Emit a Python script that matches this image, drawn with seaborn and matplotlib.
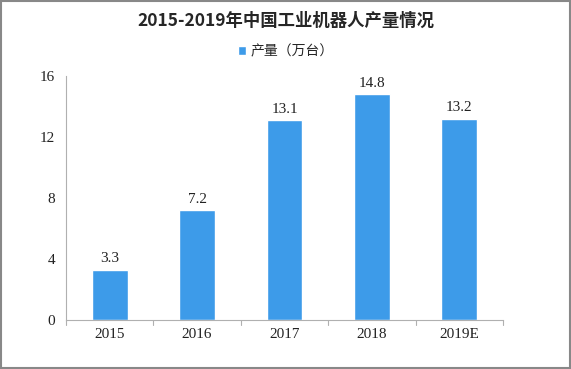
import matplotlib
matplotlib.use('Agg')
import matplotlib.pyplot as plt
import seaborn as sns
import pandas as pd

years = ['2015', '2016', '2017', '2018', '2019E']
output = [3.3, 7.2, 13.1, 14.8, 13.2]
yticks = [0, 4, 8, 12, 16]

sns.set_theme(style='white')
plt.rcParams['font.family'] = ['Liberation Serif', 'Noto Sans CJK SC', 'DejaVu Sans']

df = pd.DataFrame({'year': years, 'value': output})

fig = plt.figure(figsize=(5.71, 3.69), dpi=100)
ax = fig.add_axes([0.1156, 0.1328, 0.7654, 0.6612])
sns.barplot(data=df, x='year', y='value', color='#3d9be9', width=0.41,
            saturation=1, ax=ax, label='产量（万台）')

# value labels above bars
for i, v in enumerate(output):
    ax.text(i, v + 0.3, f'{v}', ha='center', va='bottom', fontsize=11, color='#222222')

ax.set_ylim(0, 16)
ax.set_yticks(yticks)
ax.set_xlim(-0.5, len(years) - 0.5)
ax.set_xlabel('')
ax.set_ylabel('')
for s in ['top', 'right']:
    ax.spines[s].set_visible(False)
for s in ['left', 'bottom']:
    ax.spines[s].set_color('#b0b0b0')
    ax.spines[s].set_linewidth(0.8)
ax.tick_params(axis='both', labelsize=11, colors='#222222', length=0, pad=6)
ax.tick_params(axis='y', length=4, color='#b0b0b0', direction='out', pad=4)
# category separator ticks on x axis
for b in range(len(years) + 1):
    ax.plot([b - 0.5, b - 0.5], [0, -0.3], color='#b0b0b0', lw=0.8, clip_on=False)

fig.text(0.5, 0.945, '2015-2019年中国工业机器人产量情况', ha='center', va='center',
         fontsize=12.5, fontweight='bold', family=['Noto Sans CJK SC'])
leg = ax.legend(loc='center', bbox_to_anchor=(0.5, 0.86), bbox_transform=fig.transFigure,
                frameon=False, handlelength=0.6, handleheight=0.6, handletextpad=0.3,
                prop={'family': 'Noto Sans CJK SC', 'size': 10})

fig.patches.append(plt.Rectangle((0.002, 0.003), 0.996, 0.994, transform=fig.transFigure,
                                 fill=False, edgecolor='#888888', lw=1.5))
fig.savefig('out.png', dpi=100)
